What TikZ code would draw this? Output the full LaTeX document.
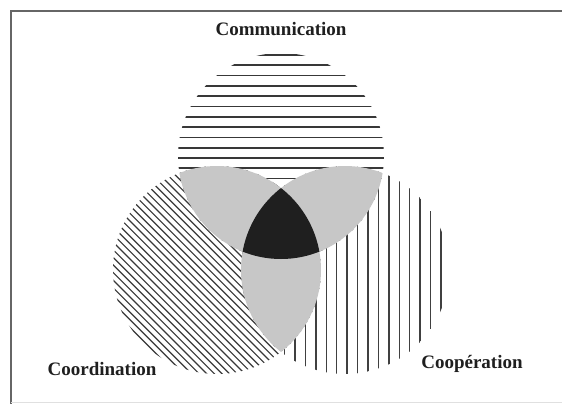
\documentclass[tikz,border=0pt]{standalone}
\usepackage{fontspec}
\setmainfont{Liberation Serif}
\tikzset{
  hatchline/.style={draw=black!78, line width=1.7pt},
  diagline/.style={draw=black!78, line width=1.2pt},
  vertline/.style={draw=black!75, line width=1.4pt},
  lensfill/.style={fill=black!22},
  corefill/.style={fill=black!88},
  label/.style={font=\fontsize{19}{21}\selectfont\bfseries, text=black!88, inner sep=0pt},
  framestyle/.style={draw=black!60, line width=2pt}
}
\begin{document}
\begin{tikzpicture}[x=1pt,y=-1pt]
\useasboundingbox (0,0) rectangle (562,404);
\fill[white] (0,0) rectangle (562,404);
% centres
\coordinate (T) at (281,156);
\coordinate (L) at (217,270);
\coordinate (R) at (345,270);
\def\rT{103pt}
\def\rL{104pt}
\def\rR{104pt}
% frame
\draw[framestyle] (11,404) -- (11,11) -- (563,11);
\draw[draw=black!12, line width=1pt] (11,402.5) -- (562,402.5);
% top circle: horizontal hatch
\begin{scope}
  \clip (T) circle[radius=\rT];
  \foreach \k in {0,...,20} {
    \draw[hatchline] (160,{55+10.3*\k}) -- (400,{55+10.3*\k});
  }
\end{scope}
% left circle: diagonal hatch
\begin{scope}
  \clip (L) circle[radius=\rL];
  \foreach \k in {0,...,40} {
    \draw[diagline] ({-205+7.6*\k+100},100) -- ({-205+7.6*\k+420},420);
  }
\end{scope}
% right circle: vertical hatch
\begin{scope}
  \clip (R) circle[radius=\rR];
  \foreach \k in {-10,...,11} {
    \draw[vertline] ({336.7+10.43*\k},150) -- ({336.7+10.43*\k},400);
  }
\end{scope}
% pairwise intersections (grey)
\begin{scope}
  \clip (T) circle[radius=\rT];
  \fill[lensfill] (L) circle[radius=\rL];
  \fill[lensfill] (R) circle[radius=\rR];
\end{scope}
\begin{scope}
  \clip (L) circle[radius=\rL];
  \fill[lensfill] (R) circle[radius=\rR];
\end{scope}
% triple intersection (black)
\begin{scope}
  \clip (T) circle[radius=\rT];
  \clip (L) circle[radius=\rL];
  \fill[corefill] (R) circle[radius=\rR];
\end{scope}
% labels
\node[label] (comm) at (281,29) {Communication};
\node[label] (coord) at (102,369) {Coordination};
\node[label] (coop) at (472,364) {Coopération};
\end{tikzpicture}
\end{document}
